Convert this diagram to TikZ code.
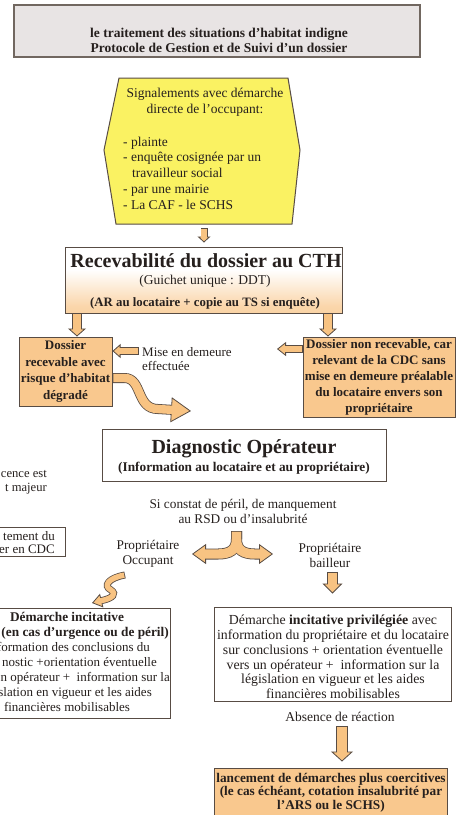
\documentclass[tikz,border=0pt]{standalone}
\usepackage{fontspec}
\setmainfont{Liberation Serif}
\usetikzlibrary{calc,arrows.meta}

\definecolor{ink}{RGB}{38,32,30}
\definecolor{edge}{RGB}{88,76,68}
\definecolor{titlegray}{RGB}{232,228,228}
\definecolor{signalyellow}{RGB}{250,242,98}
\definecolor{peach}{RGB}{249,200,142}
\definecolor{arrowpeach}{RGB}{248,195,130}

% white panel fading to peach along its lower edge
\pgfdeclareverticalshading{peachfade}{100bp}{%
  color(0bp)=(peach); color(30bp)=(peach!75!white); color(58bp)=(white); color(100bp)=(white)}

\newcommand\fs[2]{\fontsize{#1}{#2}\selectfont}

% outlined fat arrow along any path: shaft width, head width, head length, path
\newcommand\fatpath[4]{%
  \pgfmathsetmacro\faInner{#1-1.6}%
  \pgfmathsetmacro\faDark{#3-0.4}%
  \pgfmathsetmacro\faFill{#3-1.8}%
  \draw[draw=edge, line width=0.8pt, -{Triangle[width=#2pt,length=#3pt,fill=arrowpeach]}] #4;
  \draw[draw=edge, line width=#1pt, shorten >=\faDark pt] #4;
  \draw[draw=arrowpeach, line width=\faInner pt, shorten >=\faFill pt, shorten <=0.8pt] #4;
}
\newcommand\fatarrow[5]{\fatpath{#1}{#2}{#3}{#4 -- #5}}

\begin{document}
\begin{tikzpicture}[x=1pt,y=-1pt,
  every node/.style={text=ink, inner sep=0pt},
  panel/.style={draw=edge, line width=1pt},
  peachbox/.style={panel, fill=peach},
  plainbox/.style={panel, fill=white},
  reg/.style={font=\fs{13.3}{15}},
  regb/.style={font=\fs{13.3}{15}\bfseries},
]
\fill[white] (0,0) rectangle (457,815);
\useasboundingbox (0,0) rectangle (457,815);
\clip (0,0) rectangle (457,815);

% heading panel
\node[draw=edge!85, line width=1.3pt, fill=titlegray, minimum width=406pt, minimum height=52pt] (titlebox) at (217,31) {};
\node[font=\fs{13.5}{14.5}\bfseries, align=center] (titletext) at (219,40.5)
  {le traitement des situations d'habitat indigne\\Protocole de Gestion et de Suivi d'un dossier};

% reporting channels
\draw[draw=edge, line width=1pt, fill=signalyellow]
  (119,78) -- (288,78) -- (300,150) -- (292,224) -- (116,224) -- (104,150) -- cycle;
\coordinate (hexbot) at (204,224);
\node[font=\fs{13.5}{16}, align=center] (signalhead) at (205,102.5)
  {Signalements avec démarche\\directe de l'occupant:};
\node[font=\fs{13.5}{15.8}, align=left, anchor=west] (signallist) at (123,173)
  {- plainte\\- enquête cosignée par un\\\hspace*{9pt}travailleur social\\- par une mairie\\- La CAF - le SCHS};

% admissibility
\node[draw=edge, line width=1pt, shading=peachfade,
      minimum width=277pt, minimum height=66pt] (cth) at (203.5,280) {};
\node[font=\fs{20}{22}\bfseries] (ctht) at (206,261) {Recevabilité du dossier au CTH};
\node[font=\fs{13.5}{15}] (ctha) at (205,281) {(Guichet unique : DDT)};
\node[font=\fs{12.8}{15}\bfseries] (cthb) at (205,303.5) {(AR au locataire + copie au TS si enquête)};

\fatarrow{7}{13}{6}{($(hexbot)+(0,4)$)}{($(cth.north)+(0.5,-4)$)}

% outcomes of admissibility
\node[peachbox, minimum width=93pt, minimum height=69pt, font=\fs{13}{16.7}\bfseries, align=center]
  (lbox) at (65.5,371.5) {Dossier\\recevable avec\\risque d'habitat\\dégradé};
\node[peachbox, minimum width=152pt, minimum height=80pt, font=\fs{13}{16}\bfseries, align=center]
  (rbox) at (379,377) {Dossier non recevable, car\\relevant de la CDC sans\\mise en demeure préalable\\du locataire envers son\\propriétaire};

\coordinate (lsplit) at (77,0);
\coordinate (rsplit) at (328,0);
\fatarrow{10}{18}{8}{(cth.south -| lsplit)}{(lbox.north -| lsplit)}
\fatarrow{10}{18}{8}{(cth.south -| rsplit)}{(rbox.north -| rsplit)}

\node[font=\fs{13}{14}, align=left, anchor=west] (mise) at (142,359) {Mise en demeure\\effectuée};
\coordinate (misetail) at (139,351);
\fatarrow{8}{14}{8}{(misetail)}{(lbox.east |- misetail)}

\coordinate (rtip) at (277,349);
\fatarrow{8}{14}{9}{(rbox.west |- rtip)}{(rtip)}

\coordinate (swave) at (0,378);
\coordinate (stip) at (191,411);
\fatpath{10}{25}{20}{(lbox.east |- swave) -- ++(12,0) .. controls +(18,0) and +(-22,0) .. (158,409) -- (stip)}

% operator diagnosis
\node[plainbox, minimum width=284pt, minimum height=52pt] (diag) at (244,455) {};
\node[font=\fs{20}{22}\bfseries] (diagt) at (244,449) {Diagnostic Opérateur};
\node[font=\fs{13.3}{15}\bfseries] (diags) at (244,468) {(Information au locataire et au propriétaire)};

\node[font=\fs{12.6}{13.5}, align=right, anchor=east] (urgence) at (47,482.5) {cence est\\t majeur};

\node[plainbox, minimum width=75pt, minimum height=29pt] (cdc) at (27.5,541.5) {};
\node[font=\fs{13}{13.5}, align=right, anchor=east] (cdct) at (55,542.5) {tement du\\er en CDC};

\node[reg, align=center] (cond) at (243,511.5) {Si constat de péril, de manquement\\au RSD ou d'insalubrité};

% owner-occupier / landlord split
\coordinate (fork) at (236.5,531);
\coordinate (forkl) at (192,554);
\coordinate (forkr) at (273,554);
\draw[draw=edge, line width=.8pt, -{Triangle[width=20pt,length=14pt,fill=arrowpeach]}]
  (fork) -- (236.5,539) .. controls (236.5,550) and (230,554) .. (218,554) -- (forkl);
\draw[draw=edge, line width=.8pt, -{Triangle[width=20pt,length=14pt,fill=arrowpeach]}]
  (fork) -- (236.5,539) .. controls (236.5,550) and (243,554) .. (255,554) -- (forkr);
\draw[draw=edge, line width=11pt, shorten >=13.6pt]
  (fork) -- (236.5,539) .. controls (236.5,550) and (230,554) .. (218,554) -- (forkl);
\draw[draw=edge, line width=11pt, shorten >=13.6pt]
  (fork) -- (236.5,539) .. controls (236.5,550) and (243,554) .. (255,554) -- (forkr);
\draw[draw=arrowpeach, line width=9.4pt, shorten >=12.2pt, shorten <=0.8pt]
  (fork) -- (236.5,539) .. controls (236.5,550) and (230,554) .. (218,554) -- (forkl);
\draw[draw=arrowpeach, line width=9.4pt, shorten >=12.2pt, shorten <=0.8pt]
  (fork) -- (236.5,539) .. controls (236.5,550) and (243,554) .. (255,554) -- (forkr);

\node[reg, align=center] (occ) at (148,553.5) {Propriétaire\\Occupant};
\node[reg, align=center] (bail) at (330,555.5) {Propriétaire\\bailleur};

% owner-occupier branch
\coordinate (occtail) at (125,575);
\coordinate (occtip) at (92,603);
\fatpath{7}{14}{10}{(occtail) .. controls (108,578) and (103,586) .. (111,590) .. controls (117,594) and (112,598) .. (104,600) -- (occtip)}

\node[plainbox, minimum width=180pt, minimum height=110pt] (lincit) at (80,663) {};
\node[regb, anchor=base] (li1) at (67,621) {Démarche incitative};
\node[regb, anchor=base east] (li2) at (169,636) {(en cas d'urgence ou de péril)};
\node[font=\fs{13}{15}, anchor=base east] (li3) at (150,651) {formation des conclusions du};
\node[font=\fs{13}{15}, anchor=base east] (li4) at (157,666) {nostic +orientation éventuelle};
\node[font=\fs{13}{15}, anchor=base east] (li5) at (170,681) {n opérateur +~ information sur la};
\node[font=\fs{13}{15}, anchor=base east] (li6) at (152,696) {slation en vigueur et les aides};
\node[font=\fs{13}{15}, anchor=base] (li7) at (67,711) {financières mobilisables};

% landlord branch
\node[plainbox, minimum width=237pt, minimum height=94pt] (incit) at (332.5,654) {};
\node[font=\fs{13.8}{14.8}, align=center] (incitt) at (333,657)
  {Démarche \textbf{incitative privilégiée} avec\\information du propriétaire et du locataire\\sur conclusions + orientation éventuelle\\vers un opérateur +~ information sur la\\législation en vigueur et les aides\\financières mobilisables};
\fatarrow{11}{20}{10}{($(incit.north |- bail.south)+(0,4)$)}{($(incit.north)+(0,-13)$)}

\node[font=\fs{13.5}{15}] (absence) at (340,717) {Absence de réaction};

\node[peachbox, minimum width=233pt, minimum height=52pt] (final) at (330.5,794) {};
\node[font=\fs{13.3}{13.5}\bfseries, align=center] (finalt) at (331,792.5)
  {lancement de démarches plus coercitives\\(le cas échéant, cotation insalubrité par\\l'ARS ou le SCHS)};
\fatarrow{12}{22}{10}{($(absence.south)+(2,4)$)}{($(final.north -| absence.south)+(2,-6)$)}

\end{tikzpicture}
\end{document}
